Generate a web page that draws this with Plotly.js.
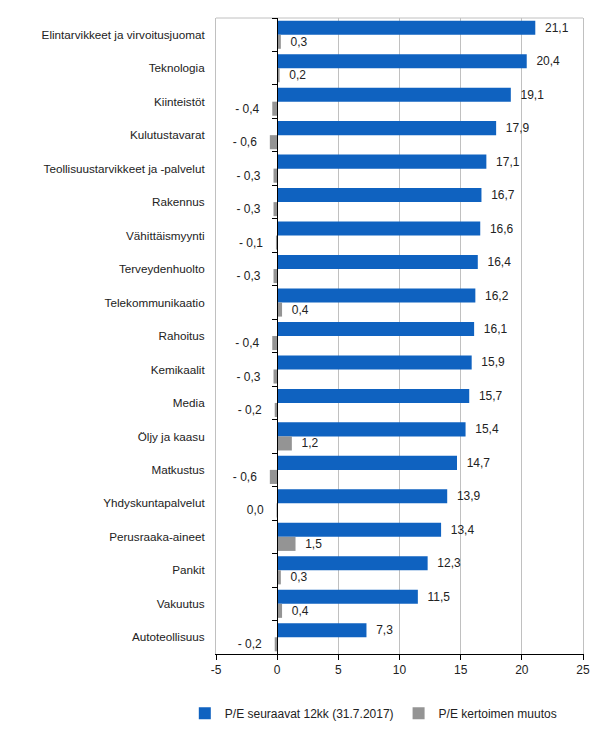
<!DOCTYPE html>
<html>
<head>
<meta charset="utf-8">
<script src="https://cdn.plot.ly/plotly-3.0.1.min.js"></script>
<style>html,body{margin:0;padding:0;background:#fff;}#chart{width:611px;height:734px;}</style>
</head>
<body>
<div id="chart"></div>
<script>
const categories = [
  "Elintarvikkeet ja virvoitusjuomat", "Teknologia", "Kiinteistöt", "Kulutustavarat",
  "Teollisuustarvikkeet ja -palvelut", "Rakennus", "Vähittäismyynti", "Terveydenhuolto",
  "Telekommunikaatio", "Rahoitus", "Kemikaalit", "Media", "Öljy ja kaasu", "Matkustus",
  "Yhdyskuntapalvelut", "Perusraaka-aineet", "Pankit", "Vakuutus", "Autoteollisuus"
];
const peNext12 = [21.1, 20.4, 19.1, 17.9, 17.1, 16.7, 16.6, 16.4, 16.2, 16.1, 15.9, 15.7, 15.4, 14.7, 13.9, 13.4, 12.3, 11.5, 7.3];
const peChange = [0.3, 0.2, -0.4, -0.6, -0.3, -0.3, -0.1, -0.3, 0.4, -0.4, -0.3, -0.2, 1.2, -0.6, 0.0, 1.5, 0.3, 0.4, -0.2];
const seriesNames = ["P/E seuraavat 12kk (31.7.2017)", "P/E kertoimen muutos"];
const xTicks = [-5, 0, 5, 10, 15, 20, 25];

const NB = "\u00a0";
const num = v => Math.abs(v).toFixed(1).replace(".", ",");
const fmtPos = v => NB + NB + num(v);
const fmtChange = v => (v > 0 ? NB + NB + num(v) : "- " + num(v) + NB + NB + NB);
const font = {family: "Liberation Sans, Arial, sans-serif", size: 12, color: "#222"};

const traces = [
  {
    type: "bar", orientation: "h", name: seriesNames[0],
    y: categories, x: peNext12,
    marker: {color: "#0f62c0"},
    text: peNext12.map(fmtPos), textposition: "outside", cliponaxis: false,
    textfont: font, constraintext: "none", hoverinfo: "x+y"
  },
  {
    type: "bar", orientation: "h", name: seriesNames[1],
    y: categories, x: peChange.map(v => v === 0 ? -0.05 : v),
    marker: {color: "#949494"},
    text: peChange.map(v => v === 0 ? num(v) + NB + NB + NB : fmtChange(v)),
    textposition: "outside", cliponaxis: false,
    textfont: font, constraintext: "none", hoverinfo: "x+y"
  },
  {
    type: "bar", orientation: "h", y: categories, x: categories.map(() => null),
    yaxis: "y2", showlegend: false, hoverinfo: "skip"
  }
];

const xr = [xTicks[0], xTicks[xTicks.length - 1]];
const layout = {
  width: 611, height: 734,
  margin: {l: 216, r: 28, t: 18, b: 80, autoexpand: false},
  paper_bgcolor: "#fff", plot_bgcolor: "#fff",
  font: font,
  separators: ", ",
  barmode: "group", bargap: 0.16, bargroupgap: 0,
  showlegend: true,
  legend: {orientation: "h", x: -0.085, xanchor: "left",
           y: -0.093, yanchor: "middle", font: font, itemwidth: 30, traceorder: "normal"},
  xaxis: {
    range: xr, tickvals: xTicks, ticktext: xTicks.map(String),
    showgrid: true, gridcolor: "#c0c0c0", gridwidth: 1,
    zeroline: false, showline: true, linecolor: "#000", linewidth: 1,
    ticks: "outside", ticklen: 5, tickcolor: "#000", tickfont: font, fixedrange: true
  },
  yaxis: {
    type: "category", autorange: "reversed",
    showgrid: false, zeroline: false, showline: true, linecolor: "#c0c0c0", mirror: true,
    ticks: "", tickfont: {family: font.family, size: 11.7, color: "#222"},
    ticklabelstandoff: 8, fixedrange: true, automargin: false
  },
  yaxis2: {
    type: "category", overlaying: "y", matches: "y", anchor: "free",
    position: (0 - xr[0]) / (xr[1] - xr[0]),
    showticklabels: false, showgrid: false, zeroline: false,
    showline: true, linecolor: "#000", linewidth: 1, automargin: false,
    ticks: "outside", tickson: "boundaries", ticklen: 5, tickcolor: "#000", fixedrange: true
  },
  shapes: [
    {type: "line", xref: "paper", yref: "paper", x0: 0, x1: 1, y0: 1, y1: 1,
     line: {color: "#c0c0c0", width: 1}, layer: "below"}
  ]
};

Plotly.newPlot("chart", traces, layout, {displayModeBar: false, staticPlot: true});
</script>
</body>
</html>
